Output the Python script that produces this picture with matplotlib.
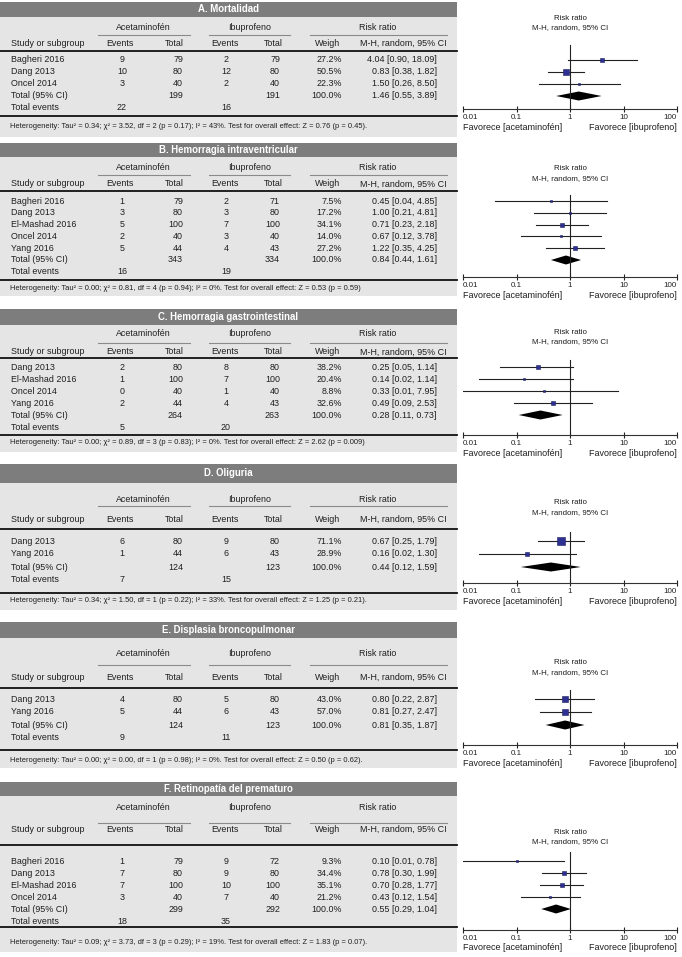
import matplotlib
matplotlib.use("Agg")
import matplotlib.pyplot as plt
from matplotlib import font_manager
from matplotlib.patches import Rectangle

# ---- data ----
titles = ["A. Mortalidad", "B. Hemorragia intraventricular", "C. Hemorragia gastrointestinal",
          "D. Oliguria", "E. Displasia broncopulmonar", "F. Retinopatía del prematuro"]

studies = [["Bagheri 2016", "Dang 2013", "Oncel 2014"],
           ["Bagheri 2016", "Dang 2013", "El-Mashad 2016", "Oncel 2014", "Yang 2016"],
           ["Dang 2013", "El-Mashad 2016", "Oncel 2014", "Yang 2016"],
           ["Dang 2013", "Yang 2016"],
           ["Dang 2013", "Yang 2016"],
           ["Bagheri 2016", "Dang 2013", "El-Mashad 2016", "Oncel 2014"]]

ev_acet = [[9, 10, 3], [1, 3, 5, 2, 5], [2, 1, 0, 2], [6, 1], [4, 5], [1, 7, 7, 3]]
tot_acet = [[79, 80, 40], [79, 80, 100, 40, 44], [80, 100, 40, 44], [80, 44], [80, 44], [79, 80, 100, 40]]
ev_ibu = [[2, 12, 2], [2, 3, 7, 3, 4], [8, 7, 1, 4], [9, 6], [5, 6], [9, 9, 10, 7]]
tot_ibu = [[79, 80, 40], [71, 80, 100, 40, 43], [80, 100, 40, 43], [80, 43], [80, 43], [72, 80, 100, 40]]
weights = [[27.2, 50.5, 22.3], [7.5, 17.2, 34.1, 14.0, 27.2], [38.2, 20.4, 8.8, 32.6],
           [71.1, 28.9], [43.0, 57.0], [9.3, 34.4, 35.1, 21.2]]
rr = [[4.04, 0.83, 1.50], [0.45, 1.00, 0.71, 0.67, 1.22], [0.25, 0.14, 0.33, 0.49],
      [0.67, 0.16], [0.80, 0.81], [0.10, 0.78, 0.70, 0.43]]
rr_lo = [[0.90, 0.38, 0.26], [0.04, 0.21, 0.23, 0.12, 0.35], [0.05, 0.02, 0.01, 0.09],
         [0.25, 0.02], [0.22, 0.27], [0.01, 0.30, 0.28, 0.12]]
rr_hi = [[18.09, 1.82, 8.50], [4.85, 4.81, 2.18, 3.78, 4.25], [1.14, 1.14, 7.95, 2.53],
         [1.79, 1.30], [2.87, 2.47], [0.78, 1.99, 1.77, 1.54]]

total_acet = [199, 343, 264, 124, 124, 299]
total_ibu = [191, 334, 263, 123, 123, 292]
total_rr = [1.46, 0.84, 0.28, 0.44, 0.81, 0.55]
total_lo = [0.55, 0.44, 0.11, 0.12, 0.35, 0.29]
total_hi = [3.89, 1.61, 0.73, 1.59, 1.87, 1.04]
events_acet = [22, 16, 5, 7, 9, 18]
events_ibu = [16, 19, 20, 15, 11, 35]

het = ["Heterogeneity: Tau² = 0.34; χ² = 3.52, df = 2 (p = 0.17); I² = 43%. Test for overall effect: Z = 0.76 (p = 0.45).",
       "Heterogeneity: Tau² = 0.00; χ² = 0.81, df = 4 (p = 0.94); I² = 0%. Test for overall effect: Z = 0.53 (p = 0.59)",
       "Heterogeneity: Tau² = 0.00; χ² = 0.89, df = 3 (p = 0.83); I² = 0%. Test for overall effect: Z = 2.62 (p = 0.009)",
       "Heterogeneity: Tau² = 0.34; χ² = 1.50, df = 1 (p = 0.22); I² = 33%. Test for overall effect: Z = 1.25 (p = 0.21).",
       "Heterogeneity: Tau² = 0.00; χ² = 0.00, df = 1 (p = 0.98); I² = 0%. Test for overall effect: Z = 0.50 (p = 0.62).",
       "Heterogeneity: Tau² = 0.09; χ² = 3.73, df = 3 (p = 0.29); I² = 19%. Test for overall effect: Z = 1.83 (p = 0.07)."]

tick_vals = [0.01, 0.1, 1, 10, 100]
tick_labels = ["0.01", "0.1", "1", "10", "100"]

# ---- layout (pixel rows of each panel) ----
layout = [
    dict(bar=(2, 17), grp=27, ul=35, col=43, l1=51, r0=60, pitch=12, l2=116, het=126, bot=137, axis=109, rr=18, vtop=45),
    dict(bar=(143, 157), grp=168, ul=175, col=184, l1=191, r0=201, pitch=11.8, l2=280, het=288, bot=296, axis=277, rr=169, vtop=195),
    dict(bar=(309, 325), grp=334, ul=343, col=352, l1=358, r0=367, pitch=12, l2=435, het=443, bot=452, axis=435, rr=332, vtop=360),
    dict(bar=(464, 483), grp=499, ul=506, col=519, l1=529, r0=541, pitch=13, l2=593, het=601, bot=610, axis=583, rr=503, vtop=532),
    dict(bar=(622, 638), grp=654, ul=665, col=677, l1=688, r0=699, pitch=13, l2=750, het=761, bot=768, axis=745, rr=663, vtop=690),
    dict(bar=(782, 796), grp=808, ul=823, col=829, l1=845, r0=861, pitch=12, l2=927, het=943, bot=952, axis=930, rr=832, vtop=852),
]

# fonts
names = set(f.name for f in font_manager.fontManager.ttflist)
main_font = "Liberation Sans Narrow" if "Liberation Sans Narrow" in names else "Liberation Sans"
plt.rcParams['font.family'] = [main_font, 'DejaVu Sans']

W, H = 682, 957
fig = plt.figure(figsize=(W / 100, H / 100), dpi=100)
bg = fig.add_axes([0, 0, 1, 1])
bg.set_xlim(0, W)
bg.set_ylim(H, 0)
bg.axis("off")

TW = 457           # table width
FX0, FX1 = 463, 677  # forest axis extent
fs = 6.4
txt = "#1e1e1e"

for p in range(6):
    L = layout[p]
    # backgrounds
    bg.add_patch(Rectangle((0, L["bar"][1]), TW, L["bot"] - L["bar"][1], color="#e5e5e5", lw=0))
    bg.add_patch(Rectangle((0, L["bar"][0]), TW, L["bar"][1] - L["bar"][0], color="#7d7d7d", lw=0))
    bg.text(TW / 2, sum(L["bar"]) / 2, titles[p], color="white", fontsize=6.9, fontweight="bold",
            ha="center", va="center")

    # group headers
    for label, cx, x0, x1 in [("Acetaminofén", 143, 98, 190), ("Ibuprofeno", 250, 209, 290), ("Risk ratio", 378, 310, 447)]:
        bg.text(cx, L["grp"], label, fontsize=fs, color=txt, ha="center", va="center")
        bg.plot([x0, x1], [L["ul"], L["ul"]], color="#8a8a8a", lw=0.8)

    # column headers
    y = L["col"]
    bg.text(11, y, "Study or subgroup", fontsize=fs, color=txt, ha="left", va="center")
    bg.text(120, y, "Events", fontsize=fs, color=txt, ha="center", va="center")
    bg.text(184, y, "Total", fontsize=fs, color=txt, ha="right", va="center")
    bg.text(225, y, "Events", fontsize=fs, color=txt, ha="center", va="center")
    bg.text(283, y, "Total", fontsize=fs, color=txt, ha="right", va="center")
    bg.text(328, y, "Weigh", fontsize=fs, color=txt, ha="center", va="center")
    bg.text(447, y, "M-H, random, 95% CI", fontsize=fs, color=txt, ha="right", va="center")
    bg.plot([0, TW], [L["l1"], L["l1"]], color="#111111", lw=1.3)
    bg.plot([0, TW], [L["l2"], L["l2"]], color="#111111", lw=1.3)

    # study rows
    n = len(studies[p])
    rows_y = [L["r0"] + i * L["pitch"] for i in range(n + 2)]
    for i in range(n):
        y = rows_y[i]
        bg.text(11, y, studies[p][i], fontsize=fs, color=txt, ha="left", va="center")
        bg.text(122, y, str(ev_acet[p][i]), fontsize=fs, color=txt, ha="center", va="center")
        bg.text(183, y, str(tot_acet[p][i]), fontsize=fs, color=txt, ha="right", va="center")
        bg.text(226, y, str(ev_ibu[p][i]), fontsize=fs, color=txt, ha="center", va="center")
        bg.text(280, y, str(tot_ibu[p][i]), fontsize=fs, color=txt, ha="right", va="center")
        bg.text(342, y, "%.1f%%" % weights[p][i], fontsize=fs, color=txt, ha="right", va="center")
        bg.text(437, y, "%.2f [%.2f, %.2f]" % (rr[p][i], rr_lo[p][i], rr_hi[p][i]),
                fontsize=fs, color=txt, ha="right", va="center")
    y = rows_y[n]
    bg.text(11, y, "Total (95% CI)", fontsize=fs, color=txt, ha="left", va="center")
    bg.text(183, y, str(total_acet[p]), fontsize=fs, color=txt, ha="right", va="center")
    bg.text(280, y, str(total_ibu[p]), fontsize=fs, color=txt, ha="right", va="center")
    bg.text(342, y, "100.0%", fontsize=fs, color=txt, ha="right", va="center")
    bg.text(437, y, "%.2f [%.2f, %.2f]" % (total_rr[p], total_lo[p], total_hi[p]),
            fontsize=fs, color=txt, ha="right", va="center")
    y = rows_y[n + 1]
    bg.text(11, y, "Total events", fontsize=fs, color=txt, ha="left", va="center")
    bg.text(122, y, str(events_acet[p]), fontsize=fs, color=txt, ha="center", va="center")
    bg.text(226, y, str(events_ibu[p]), fontsize=fs, color=txt, ha="center", va="center")

    bg.text(10, L["het"], het[p], fontsize=5.4, color=txt, ha="left", va="center")

    # forest plot
    top = L["bar"][1]
    ax = fig.add_axes([FX0 / W, 1 - L["axis"] / H, (FX1 - FX0) / W, (L["axis"] - top) / H])
    ax.set_xscale("log")
    ax.set_xlim(0.01, 100)
    ax.set_ylim(L["axis"], top)
    ax.patch.set_alpha(0)
    for s in ["top", "left", "right"]:
        ax.spines[s].set_visible(False)
    ax.spines["bottom"].set_linewidth(0.8)
    ax.spines["bottom"].set_color("#333333")
    ax.set_yticks([])
    ax.set_xticks(tick_vals)
    ax.set_xticklabels(tick_labels)
    ax.minorticks_off()
    ax.tick_params(axis="x", direction="inout", length=5, width=0.8, labelsize=5.8, pad=1, colors="#222222")
    labs = ax.get_xticklabels()
    labs[0].set_ha("left")
    labs[-1].set_ha("right")

    ax.plot([1, 1], [L["vtop"], L["axis"]], color="#222222", lw=0.8)
    for i in range(n):
        y = rows_y[i]
        ax.plot([rr_lo[p][i], rr_hi[p][i]], [y, y], color="#222222", lw=0.8)
        side = max(2.8, weights[p][i] * 0.12)
        ax.plot(rr[p][i], y, marker="s", ms=side / 1.389, mfc="#2e3192", mec="#1c1f5e", mew=0.4)
    y = rows_y[n]
    ax.fill([total_lo[p], total_rr[p], total_hi[p], total_rr[p]], [y, y - 4.5, y, y + 4.5],
            color="black", lw=0)

    bg.text(570, L["rr"], "Risk ratio", fontsize=5.7, color=txt, ha="center", va="center")
    bg.text(570, L["rr"] + 10, "M-H, random, 95% CI", fontsize=5.7, color=txt, ha="center", va="center")
    bg.text(FX0, L["axis"] + 18, "Favorece [acetaminofén]", fontsize=6.5, color=txt, ha="left", va="center")
    bg.text(FX1, L["axis"] + 18, "Favorece [ibuprofeno]", fontsize=6.5, color=txt, ha="right", va="center")

fig.savefig("out.png", dpi=100)
